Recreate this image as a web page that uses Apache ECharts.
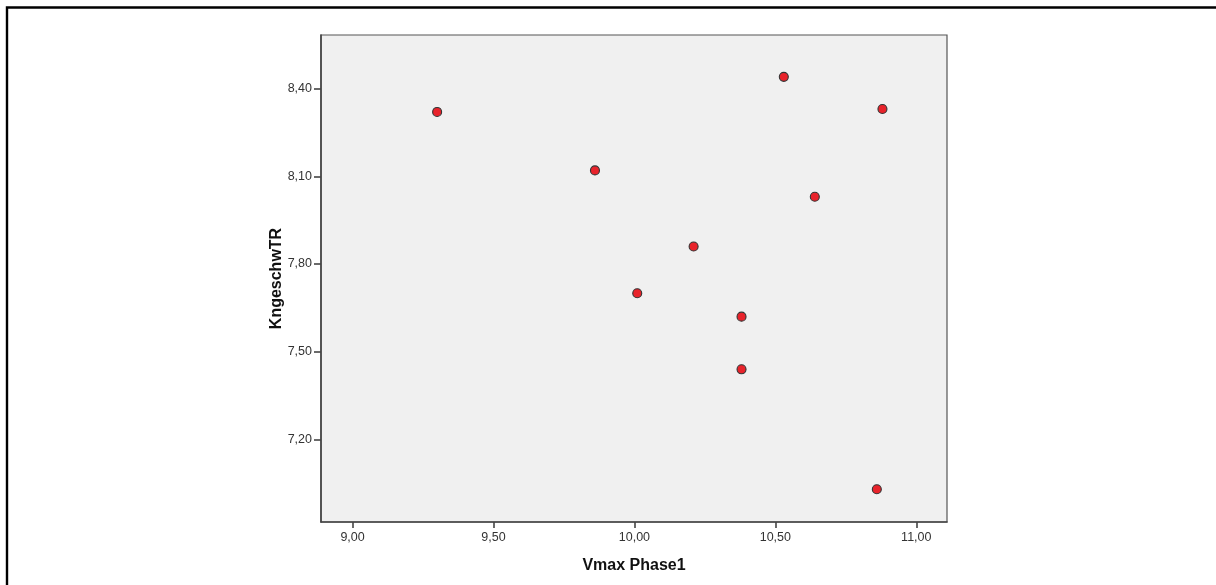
<!DOCTYPE html>
<html>
<head>
<meta charset="utf-8">
<script src="https://cdn.jsdelivr.net/npm/echarts@6/dist/echarts.min.js"></script>
<style>html,body{margin:0;padding:0;background:#fff}#c{width:1216px;height:585px}</style>
</head>
<body>
<div id="c"></div>
<script>
var vmaxPhase1 = [9.30, 9.86, 10.53, 10.88, 10.64, 10.21, 10.01, 10.38, 10.38, 10.86];
var kngeschwTR = [8.32, 8.12, 8.44, 8.33, 8.03, 7.86, 7.70, 7.62, 7.44, 7.03];
var xTicks = [9.0, 9.5, 10.0, 10.5, 11.0];
var yTicks = [7.2, 7.5, 7.8, 8.1, 8.4];

var fmt = function (v) { return Number(v).toFixed(2).replace('.', ','); };
var pts = vmaxPhase1.map(function (x, i) { return [x, kngeschwTR[i]]; });

var chart = echarts.init(document.getElementById('c'), null, {renderer: 'canvas'});
chart.setOption({
  animation: false,
  backgroundColor: '#ffffff',
  graphic: [{
    type: 'rect', z: 100,
    shape: {x: 7, y: 7.5, width: 1400, height: 800},
    style: {fill: 'none', stroke: '#000', lineWidth: 2.4}
  }],
  grid: {
    left: 321, top: 35, right: 269, bottom: 63,
    show: true, backgroundColor: '#f0f0f0', borderColor: '#555', borderWidth: 1.2
  },
  xAxis: {
    type: 'value', min: 8.888, max: 11.109,
    name: 'Vmax Phase1', nameLocation: 'middle', nameGap: 36, nameMoveOverlap: false,
    nameTextStyle: {fontFamily: 'Liberation Sans', fontWeight: 'bold', fontSize: 16, color: '#111'},
    splitLine: {show: false},
    axisLine: {show: true, onZero: false, lineStyle: {color: '#444', width: 1.6}},
    axisTick: {show: true, length: 6, customValues: xTicks, lineStyle: {color: '#444', width: 1.6}},
    axisLabel: {customValues: xTicks, formatter: fmt, margin: 9,
      fontFamily: 'Liberation Sans', fontSize: 12.5, color: '#333'}
  },
  yAxis: {
    type: 'value', min: 6.918, max: 8.583,
    name: 'KngeschwTR', nameLocation: 'middle', nameGap: 36, nameMoveOverlap: false,
    nameTextStyle: {fontFamily: 'Liberation Sans', fontWeight: 'bold', fontSize: 16, color: '#111'},
    splitLine: {show: false},
    axisLine: {show: true, onZero: false, lineStyle: {color: '#444', width: 1.6}},
    axisTick: {show: true, length: 7, customValues: yTicks, lineStyle: {color: '#444', width: 1.6}},
    axisLabel: {customValues: yTicks, formatter: fmt, margin: 9,
      fontFamily: 'Liberation Sans', fontSize: 12.5, color: '#333'}
  },
  series: [{
    type: 'scatter',
    data: pts,
    symbol: 'circle',
    symbolSize: 9,
    itemStyle: {color: '#e8232b', borderColor: '#333', borderWidth: 1.1, opacity: 1}
  }]
});
</script>
</body>
</html>
